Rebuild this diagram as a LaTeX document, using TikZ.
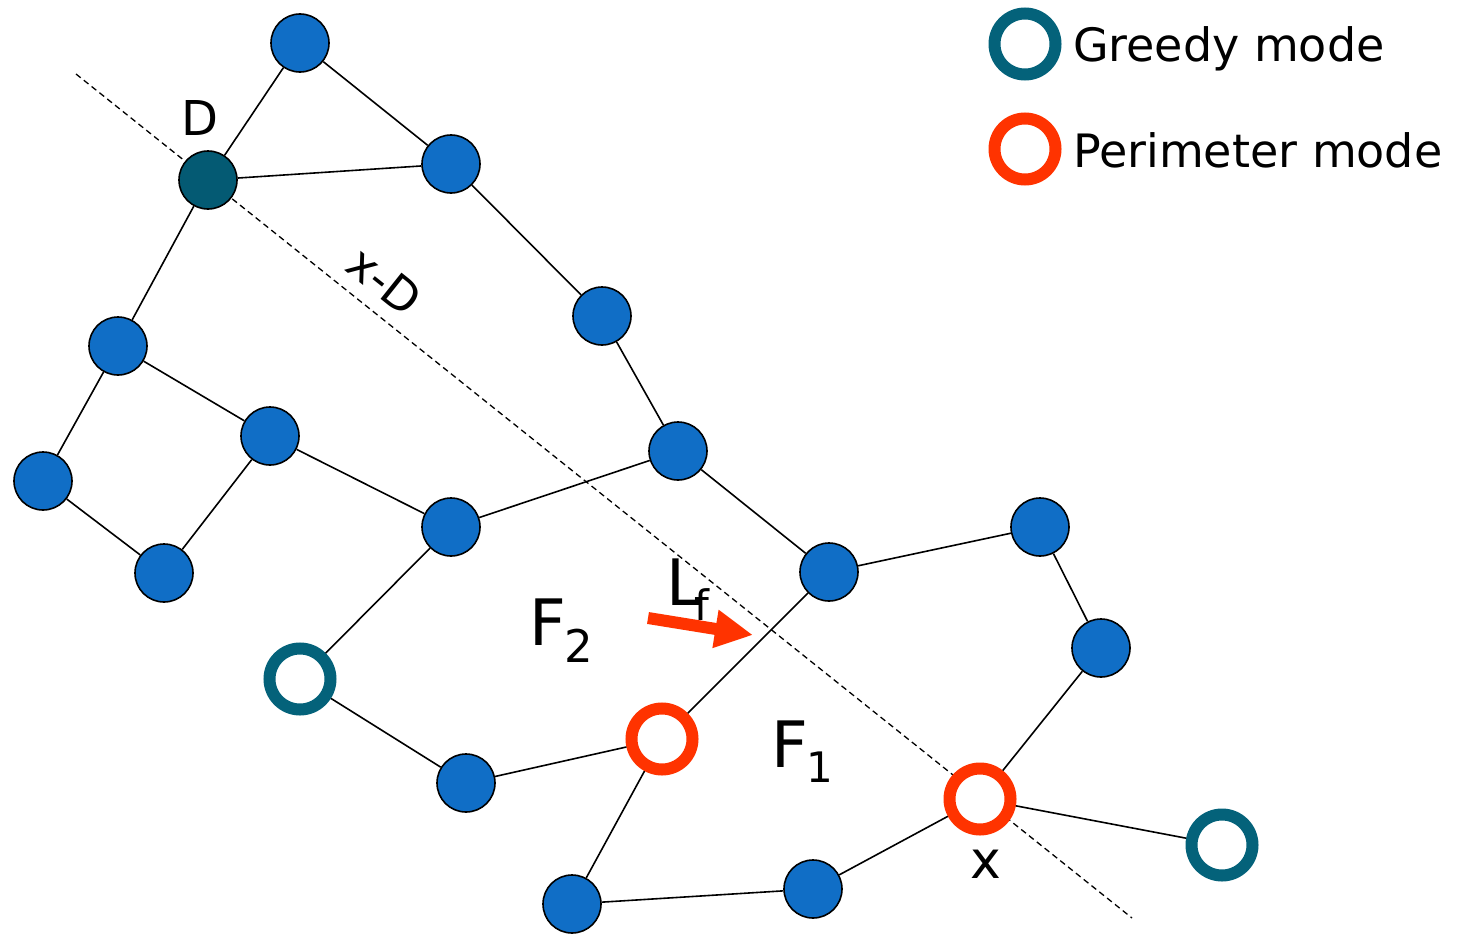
\documentclass[tikz,border=0pt]{standalone}
\usepackage{fontspec}
\setmainfont{DejaVu Sans}
\usetikzlibrary{arrows.meta}
\definecolor{hostblue}{RGB}{16,110,198}
\definecolor{destteal}{RGB}{4,90,115}
\definecolor{greedyteal}{RGB}{4,98,122}
\definecolor{perimred}{RGB}{255,51,0}
\newcommand{\fsz}[1]{\fontsize{#1}{#1}\selectfont}
\begin{document}
\begin{tikzpicture}[x=1pt,y=-1pt,
  host/.style={circle,draw=black,line width=1.6pt,fill=hostblue,minimum size=58pt,inner sep=0pt},
  dest/.style={host,fill=destteal},
  greedynode/.style={circle,draw=greedyteal,line width=12pt,fill=white,minimum size=61pt,inner sep=0pt},
  perimnode/.style={circle,draw=perimred,line width=12pt,fill=white,minimum size=61pt,inner sep=0pt},
  link/.style={draw=black,line width=1.6pt},
  guide/.style={draw=black,line width=1.3pt,dash pattern=on 6pt off 4pt},
  lbl/.style={anchor=base west,inner sep=0pt,outer sep=0pt,text=black},
  flow/.style={draw=perimred,line width=12pt,-{Triangle[length=38pt,width=36pt]}}]
\useasboundingbox (0,0) rectangle (1462,934);

% line through x and D
\coordinate (g1) at (76,74);
\coordinate (g2) at (1132,918);
\draw[guide] (g1) -- (g2);

% hosts
\node[host] (a) at (300,43) {};
\node[dest] (d) at (208,180) {};
\node[host] (b) at (451,164) {};
\node[host] (c) at (602,316) {};
\node[host] (e) at (118,346) {};
\node[host] (f) at (270,436) {};
\node[host] (g) at (43,481) {};
\node[host] (h) at (164,573) {};
\node[host] (i) at (451,527) {};
\node[host] (j) at (678,451) {};
\node[host] (k) at (829,572) {};
\node[host] (l) at (1040,527) {};
\node[host] (m) at (1101,648) {};
\node[greedynode] (n) at (300,679) {};
\node[host] (o) at (466,783) {};
\node[perimnode] (p) at (662,739) {};
\node[perimnode] (x) at (980,799) {};
\node[greedynode] (r) at (1222,845) {};
\node[host] (s) at (572,904) {};
\node[host] (t) at (813,889) {};

% links
\draw[link] (a) -- (d);
\draw[link] (a) -- (b);
\draw[link] (d) -- (b);
\draw[link] (d) -- (e);
\draw[link] (b) -- (c);
\draw[link] (c) -- (j);
\draw[link] (e) -- (f);
\draw[link] (e) -- (g);
\draw[link] (g) -- (h);
\draw[link] (h) -- (f);
\draw[link] (f) -- (i);
\draw[link] (i) -- (j);
\draw[link] (i) -- (n);
\draw[link] (j) -- (k);
\draw[link] (k) -- (l);
\draw[link] (l) -- (m);
\draw[link] (m) -- (x);
\draw[link] (k) -- (p);
\draw[link] (n) -- (o);
\draw[link] (o) -- (p);
\draw[link] (p) -- (s);
\draw[link] (s) -- (t);
\draw[link] (t) -- (x);
\draw[link] (x) -- (r);

% forwarding direction
\coordinate (f1) at (648,618);
\coordinate (f2) at (753,635);
\draw[flow] (f1) -- (f2);

% labels
\node[lbl] (dl) at (181,135) {\fsz{48}D};
\node[lbl] (xl) at (970,878) {\fsz{52}x};
\node[inner sep=0pt,rotate=-38.6] (xd) at (385,281) {\fsz{46}x-D};
\node[lbl] (f2l) at (529,645) {\fsz{64}F\kern-1pt\raisebox{-17pt}{\fsz{45}2}};
\node[lbl] (f1l) at (771,767) {\fsz{64}F\kern-1pt\raisebox{-15pt}{\fsz{42}1}};
\node[lbl] (lf) at (666,605) {\fsz{64}L\kern-7pt\raisebox{-15pt}{\fsz{42}f}};

% legend
\node[greedynode] (lg) at (1025,44) {};
\node[perimnode] (lp) at (1025,149) {};
\node[lbl] (lgt) at (1073,62) {\fsz{46}Greedy mode};
\node[lbl] (lpt) at (1073,167) {\fsz{46}Perimeter mode};
\end{tikzpicture}
\end{document}
